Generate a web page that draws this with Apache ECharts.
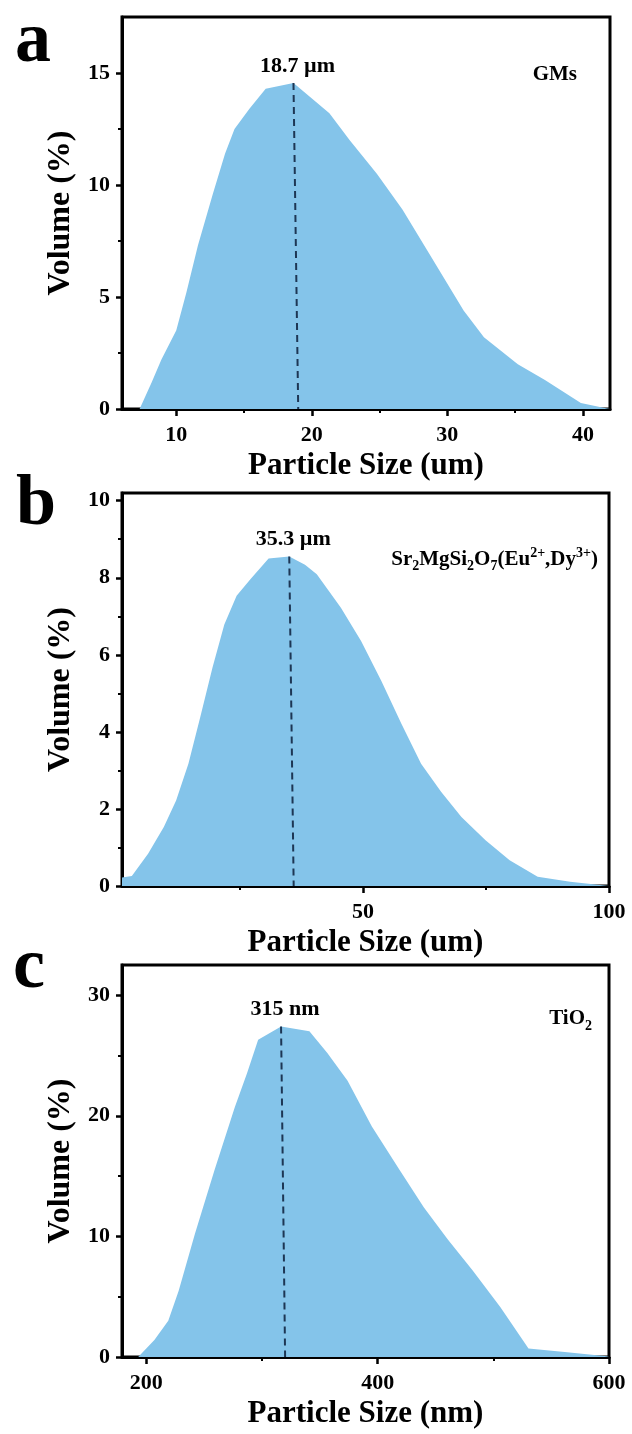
<!DOCTYPE html>
<html><head><meta charset="utf-8">
<script src="https://cdn.jsdelivr.net/npm/echarts@6/dist/echarts.min.js"></script>
<style>html,body{margin:0;padding:0;background:#fff}#c{width:632px;height:1434px}</style>
</head><body><div id="c"></div>
<script>
// ---------- Panel a : GMs ----------
const sizeA = [7.3, 7.6, 8.2, 8.9, 10.0, 10.75, 11.6, 12.7, 13.6, 14.3, 15.4, 16.6, 18.65, 21.3, 22.8, 24.8, 26.7, 28.5, 31.2, 32.7, 35.2, 37.2, 39.85, 41.6, 42.0];
const volA  = [0, 0.4, 1.2, 2.2, 3.5, 5.2, 7.3, 9.6, 11.4, 12.5, 13.4, 14.3, 14.55, 13.2, 12.0, 10.5, 8.9, 7.1, 4.4, 3.2, 2.0, 1.3, 0.27, 0.04, 0.02];
const dashA_x = [18.65, 19.0];
const dashA_y = [14.55, 0];
const peakLabelA = '18.7 µm';
const xTicksA = [10, 20, 30, 40];
const xMinorA = [15, 25, 35];
const yTicksA = [0, 5, 10, 15];
const yMinorA = [2.5, 7.5, 12.5];

// ---------- Panel b : Sr2MgSi2O7(Eu2+,Dy3+) ----------
const sizeB = [1, 3, 6.3, 9.5, 12, 14.5, 16.9, 19.4, 21.8, 24.3, 27.1, 30.8, 35.0, 38.2, 40.6, 45.5, 49.6, 53.7, 57.8, 61.8, 65.9, 70, 74.9, 79.8, 85.5, 92.1, 100];
const volB  = [0.22, 0.26, 0.84, 1.53, 2.22, 3.17, 4.38, 5.67, 6.79, 7.53, 7.96, 8.5, 8.55, 8.34, 8.09, 7.22, 6.36, 5.33, 4.21, 3.17, 2.44, 1.79, 1.19, 0.67, 0.24, 0.11, 0.0];
const dashB_x = [35.0, 35.9];
const dashB_y = [8.55, 0];
const peakLabelB = '35.3 µm';
const xTicksB = [50, 100];
const xMinorB = [25, 75];
const yTicksB = [0, 2, 4, 6, 8, 10];
const yMinorB = [1, 3, 5, 7, 9];

// ---------- Panel c : TiO2 ----------
const sizeC = [193, 207, 219, 228, 242, 259, 276.5, 287, 296.7, 316.5, 341, 356.5, 374, 395, 419, 440, 461, 482, 506, 530.4, 561.7, 598, 600];
const volC  = [0, 1.4, 3.0, 5.5, 10.2, 15.5, 20.7, 23.5, 26.3, 27.4, 27.0, 25.2, 22.9, 19.1, 15.5, 12.4, 9.7, 7.2, 4.15, 0.7, 0.41, 0.06, 0.05];
const dashC_x = [316.5, 320];
const dashC_y = [27.4, 0];
const peakLabelC = '315 nm';
const xTicksC = [200, 400, 600];
const xMinorC = [300, 500];
const yTicksC = [0, 10, 20, 30];
const yMinorC = [5, 15, 25];

const xTitles = ['Particle Size (um)', 'Particle Size (um)', 'Particle Size (nm)'];
const yTitle = 'Volume (%)';

const FONT = '"Liberation Serif","Times New Roman",serif';
const FILL = '#84C4EA';
const DASH = '#1d3654';

const panels = [
  {xs: sizeA, ys: volA, dx: dashA_x, dy: dashA_y, lab: peakLabelA, xt: xTicksA, xm: xMinorA, yt: yTicksA, ym: yMinorA, xr: [6, 42], yr: [0, 17.5]},
  {xs: sizeB, ys: volB, dx: dashB_x, dy: dashB_y, lab: peakLabelB, xt: xTicksB, xm: xMinorB, yt: yTicksB, ym: yMinorB, xr: [1, 100], yr: [0, 10.2]},
  {xs: sizeC, ys: volC, dx: dashC_x, dy: dashC_y, lab: peakLabelC, xt: xTicksC, xm: xMinorC, yt: yTicksC, ym: yMinorC, xr: [179, 600], yr: [0, 32.5]}
];

const gridPos = [
  {left: 122, top: 17, width: 488, height: 392},
  {left: 122, top: 493, width: 487, height: 393},
  {left: 122, top: 965, width: 487, height: 392}
];

const grid = [], xAxis = [], yAxis = [], series = [];
panels.forEach((p, i) => {
  grid.push(Object.assign({show: true, borderColor: '#000', borderWidth: 3, outerBoundsMode: 'none', containLabel: false}, gridPos[i]));
  const labelStyle = {color: '#000', fontFamily: FONT, fontWeight: 'bold', fontSize: 22};
  xAxis.push({
    type: 'value', gridIndex: i, min: p.xr[0], max: p.xr[1], position: 'bottom',
    axisLine: {show: true, onZero: false, lineStyle: {color: '#000', width: 3}},
    axisTick: {show: true, inside: false, length: 7, lineStyle: {color: '#000', width: 2.5}, customValues: p.xt},
    axisLabel: Object.assign({show: true, margin: 15, customValues: p.xt}, labelStyle),
    splitLine: {show: false},
    name: xTitles[i], nameLocation: 'middle', nameGap: 41, nameMoveOverlap: false,
    nameTextStyle: {color: '#000', fontFamily: FONT, fontWeight: 'bold', fontSize: 31}
  });
  xAxis.push({
    type: 'value', gridIndex: i, min: p.xr[0], max: p.xr[1], position: 'bottom',
    axisLine: {show: false, onZero: false},
    axisTick: {show: true, inside: false, length: 4, lineStyle: {color: '#000', width: 2}, customValues: p.xm},
    axisLabel: {show: false}, splitLine: {show: false}
  });
  yAxis.push({
    type: 'value', gridIndex: i, min: p.yr[0], max: p.yr[1], position: 'left',
    axisLine: {show: true, onZero: false, lineStyle: {color: '#000', width: 3}},
    axisTick: {show: true, inside: false, length: 6, lineStyle: {color: '#000', width: 2.5}, customValues: p.yt},
    axisLabel: Object.assign({show: true, margin: 12, customValues: p.yt}, labelStyle),
    splitLine: {show: false},
    name: yTitle, nameLocation: 'middle', nameGap: 45, nameRotate: 90, nameMoveOverlap: false,
    nameTextStyle: {color: '#000', fontFamily: FONT, fontWeight: 'bold', fontSize: 32}
  });
  yAxis.push({
    type: 'value', gridIndex: i, min: p.yr[0], max: p.yr[1], position: 'left',
    axisLine: {show: false, onZero: false},
    axisTick: {show: true, inside: false, length: 4, lineStyle: {color: '#000', width: 2}, customValues: p.ym},
    axisLabel: {show: false}, splitLine: {show: false}
  });
  const xi = i * 2, yi = i * 2;
  series.push({
    type: 'line', xAxisIndex: xi, yAxisIndex: yi, symbol: 'none', silent: true,
    data: p.xs.map((x, k) => [x, p.ys[k]]),
    lineStyle: {width: 0, color: FILL}, areaStyle: {color: FILL, opacity: 1}, z: 1
  });
  series.push({
    type: 'line', xAxisIndex: xi, yAxisIndex: yi, symbol: 'none', silent: true,
    data: p.dx.map((x, k) => [x, p.dy[k]]),
    lineStyle: {width: 2, color: DASH, type: [7, 5]}, z: 3
  });
  series.push({
    type: 'scatter', xAxisIndex: xi, yAxisIndex: yi, silent: true, symbolSize: 0.1,
    itemStyle: {color: DASH, opacity: 1},
    data: [[p.dx[0], p.dy[0]]],
    label: {show: true, position: 'top', distance: 6, offset: [4, 0], formatter: p.lab, opacity: 1,
      color: '#000', fontFamily: FONT, fontWeight: 'bold', fontSize: 22}, z: 4
  });
});

const letterFont = 'bold 72px ' + FONT;
const graphic = [
  {type: 'text', style: {x: 15, y: 42, text: 'a', font: letterFont, fill: '#000', verticalAlign: 'middle', align: 'left'}},
  {type: 'text', style: {x: 16, y: 505, text: 'b', font: letterFont, fill: '#000', verticalAlign: 'middle', align: 'left'}},
  {type: 'text', style: {x: 13, y: 968, text: 'c', font: letterFont, fill: '#000', verticalAlign: 'middle', align: 'left'}},
  {type: 'text', style: {x: 577, y: 75, text: 'GMs', font: 'bold 21px ' + FONT, fill: '#000', verticalAlign: 'middle', align: 'right'}},
  {type: 'text', style: {x: 598, y: 560, align: 'right', verticalAlign: 'middle',
    text: '{m|Sr}{s|2}{m|MgSi}{s|2}{m|O}{s|7}{m|(Eu}{p|2+}{m|,Dy}{p|3+}{m|)}',
    rich: {
      m: {fontSize: 21, lineHeight: 27, fontWeight: 'bold', fontFamily: FONT, fill: '#000'},
      s: {fontSize: 14, lineHeight: 14, fontWeight: 'bold', fontFamily: FONT, fill: '#000', verticalAlign: 'bottom'},
      p: {fontSize: 14, lineHeight: 14, fontWeight: 'bold', fontFamily: FONT, fill: '#000', verticalAlign: 'top'}
    }}},
  {type: 'text', style: {x: 592, y: 1019, align: 'right', verticalAlign: 'middle',
    text: '{m|TiO}{s|2}',
    rich: {
      m: {fontSize: 21, lineHeight: 28, fontWeight: 'bold', fontFamily: FONT, fill: '#000'},
      s: {fontSize: 14, lineHeight: 14, fontWeight: 'bold', fontFamily: FONT, fill: '#000', verticalAlign: 'bottom'}
    }}}
];

const chart = echarts.init(document.getElementById('c'), null, {renderer: 'canvas'});
chart.setOption({
  animation: false,
  backgroundColor: '#fff',
  grid, xAxis, yAxis, series, graphic
});
</script>
</body></html>
